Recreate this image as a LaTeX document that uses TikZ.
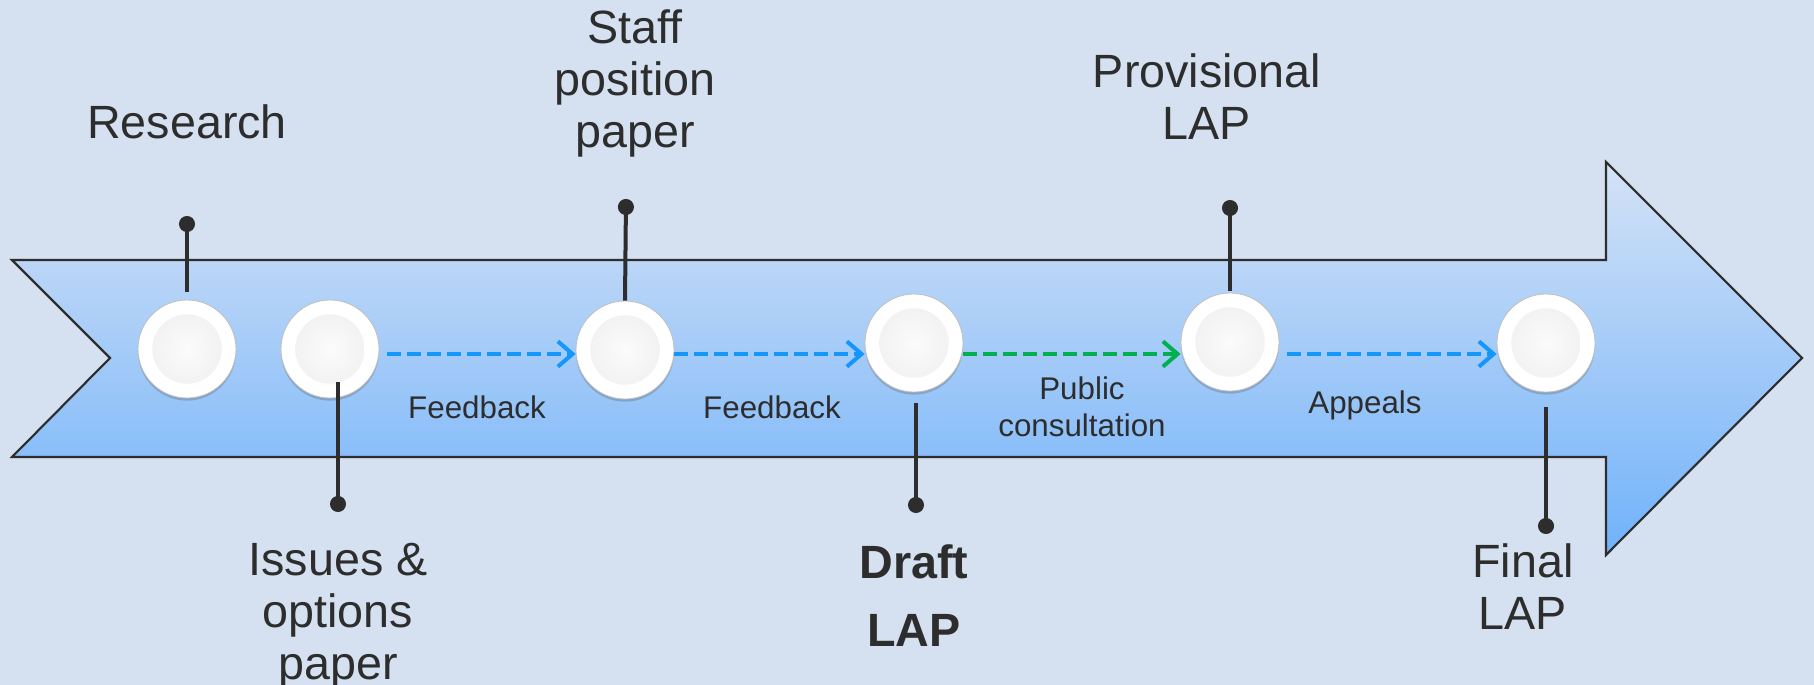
\documentclass[tikz,border=0pt]{standalone}
\usepackage{fontspec}
\setmainfont{Liberation Sans}
\usetikzlibrary{arrows.meta,shadows,calc}

\definecolor{bgblue}{RGB}{213,225,240}
\definecolor{arrtop}{RGB}{212,226,246}
\definecolor{arrbot}{RGB}{112,178,250}
\definecolor{ink}{RGB}{45,45,45}
\definecolor{flowblue}{RGB}{20,150,250}
\definecolor{flowgreen}{RGB}{0,176,80}

\begin{document}
\begin{tikzpicture}[x=0.75pt,y=0.75pt,yscale=-1,xscale=1,
  stop/.style={circle, minimum size=73.5pt, inner sep=0pt, draw=gray!50, line width=0.6pt, fill=white,
    drop shadow={shadow xshift=0pt, shadow yshift=-2pt, opacity=0.3, fill=gray!70!black},
    path picture={\fill[inner color=gray!3, outer color=gray!13] (path picture bounding box.center) circle (26pt);}},
  stem/.style={line width=3pt, draw=ink, {Circle[length=12pt]}-},
  flow/.style={line width=3pt, dash pattern=on 10pt off 5pt, -{Straight Barb[length=11pt,width=19pt]}},
  big/.style={text=ink, font=\fontsize{35}{39}\selectfont, align=center},
  small/.style={text=ink, font=\fontsize{23.5}{28}\selectfont, align=center}]

%Background
\useasboundingbox (0,0) rectangle (1814,685);
\fill[bgblue] (0,0) rectangle (1814,685);

%Shape: Arrow
\draw[line width=1.6pt, draw=ink, top color=arrtop, bottom color=arrbot] (12,260) -- (1606,260) -- (1606,162) -- (1802,358) -- (1606,555) -- (1606,457) -- (12,457) -- (110,358) -- cycle;

%Stops
\node[stop] (c1) at (187,349) {};
\node[stop] (c2) at (330,349) {};
\node[stop] (c3) at (625,350) {};
\node[stop] (c4) at (914,343) {};
\node[stop] (c5) at (1230,342) {};
\node[stop] (c6) at (1546,343) {};

%Stems
\coordinate (d1) at (187,216);
\coordinate (d2) at (338,512);
\coordinate (d3) at (626,199);
\coordinate (d4) at (916,513);
\coordinate (d5) at (1230,200);
\coordinate (d6) at (1546,534);
\draw[stem] (d1) -- ($(c1.north)+(0,-8)$);
\draw[stem] (d2) -- ($(c2.center)+(8,33)$);
\draw[stem] (d3) -- (c3.north);
\draw[stem] (d4) -- ($(c4.south)+(2,11)$);
\draw[stem] (d5) -- ($(c5.north)+(0,-2)$);
\draw[stem] (d6) -- ($(c6.south)+(0,15)$);

%Flow arrows
\coordinate (lane) at (0,354);
\draw[flow, flowblue, shorten <=6pt] (c2.east |- lane) -- (c3.west |- lane);
\draw[flow, flowblue] (c3.east |- lane) -- (c4.west |- lane);
\draw[flow, flowgreen] (c4.east |- lane) -- (c5.west |- lane);
\draw[flow, flowblue, shorten <=6pt] (c5.east |- lane) -- (c6.west |- lane);

% Text Node
\node[small] (fb1) at (477,407) {Feedback};
\node[small] (fb2) at (772,407) {Feedback};
\node[small] (pc) at (1082,407) {Public\\consultation};
\node[small] (ap) at (1365,405) {Appeals};

% Text Node
\node[big] (research) at (187,122) {Research};
\node[big] (issues) at (338,616) {Issues \&\\options\\paper};
\node[big] (staff) at (635,83) {Staff\\position\\paper};
\node[big, font=\fontsize{35}{51}\selectfont\bfseries] (draft) at (914,596) {Draft\\LAP};
\node[big] (prov) at (1207,97) {Provisional\\LAP};
\node[big] (final) at (1523,587) {Final\\LAP};
\end{tikzpicture}
\end{document}
